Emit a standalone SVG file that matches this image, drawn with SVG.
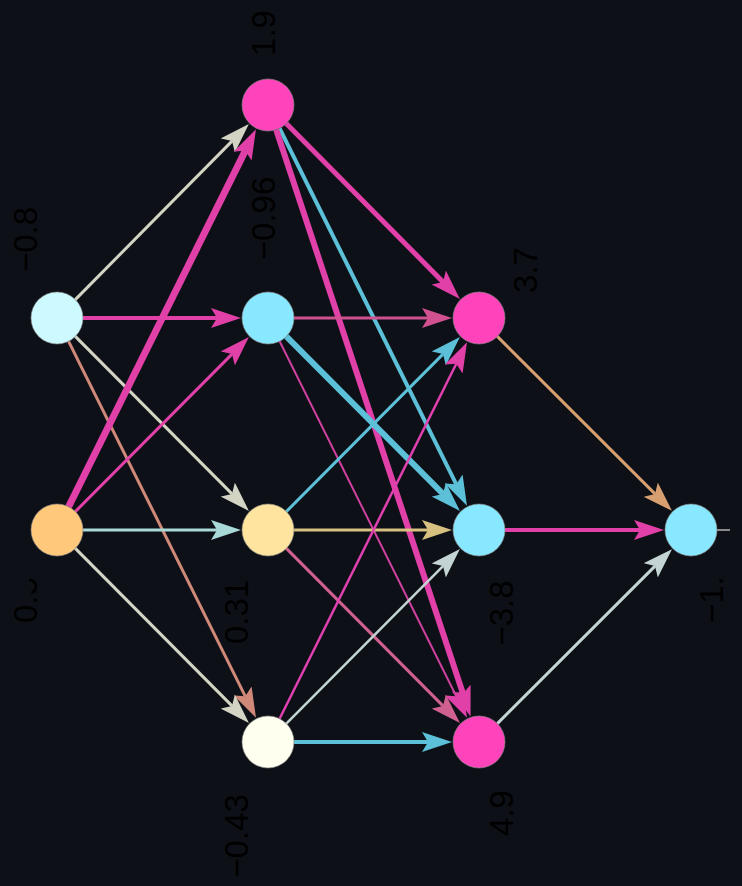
<svg xmlns="http://www.w3.org/2000/svg" width="742" height="886" viewBox="0 0 742 886">
<style>
.n{stroke:#8a8a8a;stroke-width:1;stroke-opacity:0.6}
.l{fill:#000;font-family:"Liberation Sans",Arial,sans-serif;font-size:33px}
line{stroke-linecap:butt}
</style>
<defs>
<marker id="mBeige" markerUnits="userSpaceOnUse" markerWidth="30" markerHeight="20" refX="6" refY="10" orient="auto"><path d="M0,0L30,10L0,20L6,10z" fill="#d4d4c4"/></marker>
<marker id="mPink" markerUnits="userSpaceOnUse" markerWidth="30" markerHeight="20" refX="6" refY="10" orient="auto"><path d="M0,0L30,10L0,20L6,10z" fill="#e040a8"/></marker>
<marker id="mSalmon" markerUnits="userSpaceOnUse" markerWidth="30" markerHeight="20" refX="6" refY="10" orient="auto"><path d="M0,0L30,10L0,20L6,10z" fill="#d08878"/></marker>
<marker id="mTeal" markerUnits="userSpaceOnUse" markerWidth="30" markerHeight="20" refX="6" refY="10" orient="auto"><path d="M0,0L30,10L0,20L6,10z" fill="#a8d8d8"/></marker>
<marker id="mCyan" markerUnits="userSpaceOnUse" markerWidth="30" markerHeight="20" refX="6" refY="10" orient="auto"><path d="M0,0L30,10L0,20L6,10z" fill="#5cc0d8"/></marker>
<marker id="mPinkB" markerUnits="userSpaceOnUse" markerWidth="30" markerHeight="20" refX="6" refY="10" orient="auto"><path d="M0,0L30,10L0,20L6,10z" fill="#d05090"/></marker>
<marker id="mTan" markerUnits="userSpaceOnUse" markerWidth="30" markerHeight="20" refX="6" refY="10" orient="auto"><path d="M0,0L30,10L0,20L6,10z" fill="#d8c080"/></marker>
<marker id="mPinkC" markerUnits="userSpaceOnUse" markerWidth="30" markerHeight="20" refX="6" refY="10" orient="auto"><path d="M0,0L30,10L0,20L6,10z" fill="#d06090"/></marker>
<marker id="mGrey" markerUnits="userSpaceOnUse" markerWidth="30" markerHeight="20" refX="6" refY="10" orient="auto"><path d="M0,0L30,10L0,20L6,10z" fill="#c4d4d4"/></marker>
<marker id="mTanO" markerUnits="userSpaceOnUse" markerWidth="30" markerHeight="20" refX="6" refY="10" orient="auto"><path d="M0,0L30,10L0,20L6,10z" fill="#d8a070"/></marker>
<clipPath id="clipA" clipPathUnits="userSpaceOnUse"><rect x="0" y="595" width="80" height="60"/><rect x="29" y="570" width="30" height="30"/></clipPath>
<clipPath id="clipO" clipPathUnits="userSpaceOnUse"><rect x="680" y="577" width="62" height="80"/></clipPath>
</defs>
<rect x="0" y="0" width="742" height="886" fill="#0d1117"/>
<g id="connectors">
<line x1="75.3" y1="299.6" x2="232" y2="141.1" stroke="#d4d4c4" stroke-width="3" marker-end="url(#mBeige)"/>
<line x1="83" y1="318" x2="217" y2="318" stroke="#e040a8" stroke-width="4" marker-end="url(#mPink)"/>
<line x1="75.3" y1="336.4" x2="232" y2="493.9" stroke="#d4d4c4" stroke-width="3" marker-end="url(#mBeige)"/>
<line x1="68.6" y1="341.3" x2="245.3" y2="696.3" stroke="#d08878" stroke-width="3" marker-end="url(#mSalmon)"/>
<line x1="68.6" y1="506.7" x2="245.3" y2="150.7" stroke="#e040a8" stroke-width="7" marker-end="url(#mPink)"/>
<line x1="75.3" y1="511.6" x2="232" y2="354.1" stroke="#e040a8" stroke-width="3" marker-end="url(#mPink)"/>
<line x1="83" y1="530" x2="217" y2="530" stroke="#a8d8d8" stroke-width="3" marker-end="url(#mTeal)"/>
<line x1="75.3" y1="548.4" x2="232" y2="705.9" stroke="#d4d4c4" stroke-width="3" marker-end="url(#mBeige)"/>
<line x1="286.3" y1="123.4" x2="443" y2="281.9" stroke="#e040a8" stroke-width="5" marker-end="url(#mPink)"/>
<line x1="279.6" y1="128.3" x2="456.3" y2="484.3" stroke="#5cc0d8" stroke-width="4" marker-end="url(#mCyan)"/>
<line x1="276.2" y1="129.7" x2="463" y2="693.6" stroke="#e040a8" stroke-width="6" marker-end="url(#mPink)"/>
<line x1="294" y1="318" x2="428" y2="318" stroke="#d05090" stroke-width="3" marker-end="url(#mPinkB)"/>
<line x1="286.3" y1="336.4" x2="443" y2="493.9" stroke="#5cc0d8" stroke-width="6" marker-end="url(#mCyan)"/>
<line x1="279.6" y1="341.3" x2="456.3" y2="696.3" stroke="#d040a0" stroke-width="2" marker-end="url(#mPink)"/>
<line x1="286.3" y1="511.6" x2="443" y2="354.1" stroke="#5cc0d8" stroke-width="3" marker-end="url(#mCyan)"/>
<line x1="294" y1="530" x2="428" y2="530" stroke="#d8c080" stroke-width="3" marker-end="url(#mTan)"/>
<line x1="286.3" y1="548.4" x2="443" y2="705.9" stroke="#d06090" stroke-width="3" marker-end="url(#mPinkC)"/>
<line x1="279.6" y1="718.7" x2="456.3" y2="363.7" stroke="#e040b0" stroke-width="2.5" marker-end="url(#mPink)"/>
<line x1="286.3" y1="723.6" x2="443" y2="566.1" stroke="#c4d4d4" stroke-width="2.5" marker-end="url(#mGrey)"/>
<line x1="294" y1="742" x2="428" y2="742" stroke="#5cc0d8" stroke-width="4" marker-end="url(#mCyan)"/>
<line x1="497.3" y1="336.4" x2="655" y2="493.9" stroke="#d8a070" stroke-width="3" marker-end="url(#mTanO)"/>
<line x1="505" y1="530" x2="640" y2="530" stroke="#e040a8" stroke-width="4" marker-end="url(#mPink)"/>
<line x1="497.3" y1="723.6" x2="655" y2="566.1" stroke="#c4d4d4" stroke-width="3" marker-end="url(#mGrey)"/>
<line x1="717" y1="530" x2="730" y2="530" stroke="#8a8a8a" stroke-width="2"/>
</g>
<g id="node-in1"><circle class="n" cx="57" cy="318" r="26" fill="#ccfaff"/><text class="l" text-anchor="middle" transform="translate(37,239.5) rotate(-90)">−0.8</text></g>
<g id="node-in2"><circle class="n" cx="57" cy="530" r="26" fill="#ffc87a"/><g clip-path="url(#clipA)"><text class="l" transform="translate(37,623) rotate(-90)">0.5</text></g></g>
<g id="node-h1"><circle class="n" cx="268" cy="105" r="26" fill="#ff44bb"/><text class="l" text-anchor="middle" transform="translate(275,33) rotate(-90)">1.9</text></g>
<g id="node-h2"><circle class="n" cx="268" cy="318" r="26" fill="#88e8ff"/><text class="l" text-anchor="middle" transform="translate(275,218.5) rotate(-90)">−0.96</text></g>
<g id="node-h3"><circle class="n" cx="268" cy="530" r="26" fill="#ffe4a0"/><text class="l" text-anchor="middle" transform="translate(248,612) rotate(-90)">0.31</text></g>
<g id="node-h4"><circle class="n" cx="268" cy="742" r="26" fill="#fffff0"/><text class="l" text-anchor="middle" transform="translate(248,836) rotate(-90)">−0.43</text></g>
<g id="node-g1"><circle class="n" cx="479" cy="318" r="26" fill="#ff44bb"/><text class="l" text-anchor="middle" transform="translate(537,270) rotate(-90)">3.7</text></g>
<g id="node-g2"><circle class="n" cx="479" cy="530" r="26" fill="#88e8ff"/><text class="l" text-anchor="middle" transform="translate(513,613) rotate(-90)">−3.8</text></g>
<g id="node-g3"><circle class="n" cx="479" cy="742" r="26" fill="#ff44bb"/><text class="l" text-anchor="middle" transform="translate(513,813) rotate(-90)">4.9</text></g>
<g id="node-out"><circle class="n" cx="691" cy="530" r="26" fill="#88e8ff"/><g clip-path="url(#clipO)"><text class="l" transform="translate(723,623) rotate(-90)">−1.2</text></g></g>
</svg>
